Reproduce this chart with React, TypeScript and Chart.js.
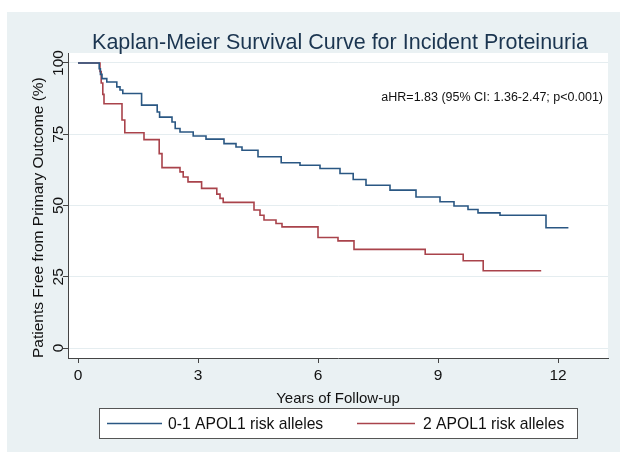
import React, { useEffect, useRef } from 'react';
import { Chart, registerables } from 'chart.js';

Chart.register(...registerables);

const titleText = 'Kaplan-Meier Survival Curve for Incident Proteinuria';
const annotationText = 'aHR=1.83 (95% CI: 1.36-2.47; p<0.001)';
const xTitle = 'Years of Follow-up';
const yTitle = 'Patients Free from Primary Outcome (%)';

const xTicks = [0, 3, 6, 9, 12];
const yTicks = [0, 25, 50, 75, 100];
const seriesLabels = ['0-1 APOL1 risk alleles', '2 APOL1 risk alleles'];
const seriesColors = ['#2a5783', '#a9434b'];

// Kaplan-Meier step points: time (years) and survival (%) after each event
const blueTimes = [0, 0.53, 0.56, 0.6, 0.72, 0.97, 1.05, 1.12, 1.59, 1.98, 2.04, 2.35, 2.43, 2.55, 2.88, 3.2, 3.65, 3.95, 4.1, 4.5, 5.08, 5.55, 6.05, 6.55, 6.88, 7.2, 7.8, 8.45, 9.05, 9.4, 9.75, 10.0, 10.55, 11.7, 12.26];
const blueSurv = [100, 98, 96, 94.5, 93.3, 91.6, 90.5, 89.3, 85.2, 82.8, 81.0, 79.3, 77.0, 75.8, 74.4, 73.3, 71.7, 70.5, 69.4, 67.1, 65.0, 64.1, 63.0, 61.2, 59.1, 57.1, 55.4, 53.0, 51.3, 49.8, 48.6, 47.4, 46.6, 42.2, 42.2];

const redTimes = [0, 0.55, 0.58, 0.62, 0.65, 1.1, 1.17, 1.65, 2.03, 2.1, 2.55, 2.63, 2.75, 3.09, 3.47, 3.55, 3.63, 4.4, 4.55, 4.65, 4.95, 5.1, 6.0, 6.5, 6.9, 8.68, 9.63, 10.13, 11.58];
const redSurv = [100, 97, 93, 89, 85.7, 80, 75.5, 73.1, 68.2, 63.3, 61.8, 60.0, 58.3, 56.0, 54.0, 52.5, 51.1, 48.4, 46.6, 44.9, 43.7, 42.5, 38.8, 37.6, 34.6, 32.9, 30.6, 27.1, 27.1];

const FONT = '"Liberation Sans", Arial, Helvetica, sans-serif';

const decorPlugin = {
  id: 'decor',
  beforeDraw(chart: any) {
    const { ctx, chartArea } = chart;
    ctx.save();
    ctx.fillStyle = '#ffffff';
    ctx.fillRect(0, 0, chart.width, chart.height);
    ctx.fillStyle = '#eaf1f3';
    ctx.fillRect(7, 12, chart.width - 7, chart.height - 12);
    ctx.fillStyle = '#ffffff';
    ctx.fillRect(chartArea.left, chartArea.top, chartArea.right - chartArea.left, chartArea.bottom - chartArea.top);
    ctx.restore();
  },
  afterDraw(chart: any) {
    const { ctx, chartArea } = chart;
    ctx.save();
    // title
    ctx.fillStyle = '#1b3550';
    ctx.font = `21.5px ${FONT}`;
    ctx.textAlign = 'center';
    ctx.textBaseline = 'alphabetic';
    ctx.fillText(titleText, (chartArea.left + chartArea.right) / 2 + 2, 48.5);
    // annotation
    ctx.fillStyle = '#111';
    ctx.font = `12.5px ${FONT}`;
    ctx.textAlign = 'right';
    ctx.textBaseline = 'middle';
    const yScale = chart.scales.y;
    ctx.fillText(annotationText, chartArea.right - 5, yScale.getPixelForValue(88));
    // legend
    const bx = 99, by = 408, bw = 478, bh = 30;
    ctx.fillStyle = '#ffffff';
    ctx.fillRect(bx, by, bw, bh);
    ctx.strokeStyle = '#555';
    ctx.lineWidth = 1;
    ctx.strokeRect(bx + 0.5, by + 0.5, bw, bh);
    const cy = by + bh / 2 + 0.5;
    const items = [
      { x0: 107, x1: 162, tx: 168 },
      { x0: 357, x1: 415, tx: 423 },
    ];
    chart.data.datasets.forEach((ds: any, i: number) => {
      const it = items[i];
      ctx.strokeStyle = ds.borderColor;
      ctx.lineWidth = 1.5;
      ctx.beginPath();
      ctx.moveTo(it.x0, cy);
      ctx.lineTo(it.x1, cy);
      ctx.stroke();
      ctx.fillStyle = '#111';
      ctx.font = `15.7px ${FONT}`;
      ctx.textAlign = 'left';
      ctx.textBaseline = 'middle';
      ctx.fillText(ds.label, it.tx, cy + 1);
    });
    ctx.restore();
  },
};

export default function App() {
  const ref = useRef<HTMLCanvasElement | null>(null);
  useEffect(() => {
    if (!ref.current) return;
    const chart = new Chart(ref.current, {
      type: 'line',
      data: {
        datasets: [
          {
            label: seriesLabels[0],
            data: blueTimes.map((t, i) => ({ x: t, y: blueSurv[i] })),
            borderColor: seriesColors[0],
            borderWidth: 1.6,
            pointRadius: 0,
            stepped: true,
            fill: false,
          },
          {
            label: seriesLabels[1],
            data: redTimes.map((t, i) => ({ x: t, y: redSurv[i] })),
            borderColor: seriesColors[1],
            borderWidth: 1.6,
            pointRadius: 0,
            stepped: true,
            fill: false,
          },
        ],
      },
      options: {
        animation: false,
        responsive: false,
        layout: { padding: { top: 53, right: 12, bottom: 44, left: 0 } },
        plugins: {
          legend: { display: false },
          title: { display: false },
          tooltip: { enabled: false },
        },
        scales: {
          x: {
            type: 'linear',
            min: -0.25,
            max: 13.25,
            afterBuildTicks: (s: any) => {
              s.ticks = xTicks.map((v) => ({ value: v }));
            },
            afterFit: (s: any) => {
              s.height = 50;
            },
            ticks: { color: '#111', font: { family: FONT, size: 15.5 }, padding: 3 },
            grid: { drawOnChartArea: false, drawTicks: true, tickLength: 5, tickColor: '#444', color: '#444' },
            border: { color: '#444', width: 1 },
            title: {
              display: true,
              text: xTitle,
              color: '#111',
              font: { family: FONT, size: 15 },
              padding: { top: 7, bottom: 0 },
            },
          },
          y: {
            type: 'linear',
            min: -3.5,
            max: 103.5,
            afterBuildTicks: (s: any) => {
              s.ticks = yTicks.map((v) => ({ value: v }));
            },
            afterFit: (s: any) => {
              s.width = 68;
            },
            ticks: {
              color: '#111',
              font: { family: FONT, size: 15.5 },
              minRotation: 90,
              maxRotation: 90,
              crossAlign: 'center',
              padding: -9,
            },
            grid: { color: '#e5edf0', tickColor: '#444', tickLength: 5, drawTicks: true },
            border: { color: '#444', width: 1 },
            title: {
              display: true,
              text: yTitle,
              align: 'start',
              color: '#111',
              font: { family: FONT, size: 15.5 },
              padding: { top: 29, bottom: 0 },
            },
          },
        },
      },
      plugins: [decorPlugin],
    } as any);
    return () => chart.destroy();
  }, []);
  return (
    <div style={{ position: 'fixed', left: 0, top: 0, width: 620, height: 452 }}>
      <canvas ref={ref} width={620} height={452} style={{ width: 620, height: 452, display: 'block' }} />
    </div>
  );
}
